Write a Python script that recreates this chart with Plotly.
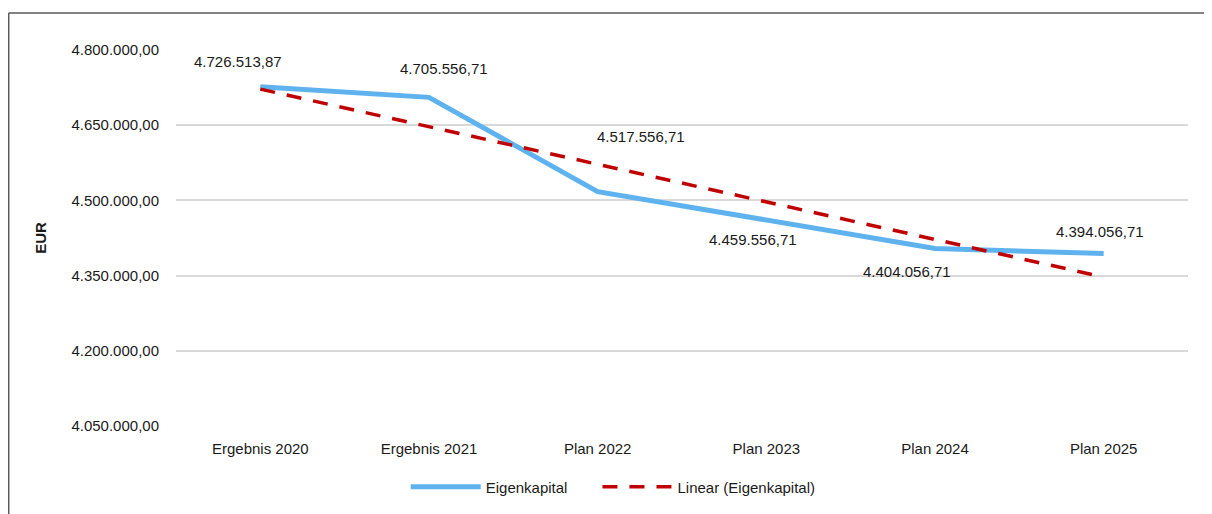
import plotly.graph_objects as go

# Data
categories = ["Ergebnis 2020", "Ergebnis 2021", "Plan 2022", "Plan 2023", "Plan 2024", "Plan 2025"]
eigenkapital = [4726513.87, 4705556.71, 4517556.71, 4459556.71, 4404056.71, 4394056.71]
# linear trend values
trend = [4722035, 4647041, 4572047, 4497053, 4422059, 4347065]
y_ticks = [4050000, 4200000, 4350000, 4500000, 4650000, 4800000]

# label offsets (px) for the data labels, Excel style placement
label_dx = [-22, 15, 43, -13, -28, -4]
label_dy = [25, 29, 55, -19, -23, 22]

FONT = "Liberation Sans, Arial"


def de_fmt(v):
    s = f"{v:,.2f}"
    return s.replace(",", "X").replace(".", ",").replace("X", ".")


fig = go.Figure()

fig.add_trace(go.Scatter(
    x=categories, y=eigenkapital,
    name="Eigenkapital" + "\u00a0" * 6,
    mode="lines",
    line=dict(color="#5EB3EF", width=5),
))

fig.add_trace(go.Scatter(
    x=categories, y=trend,
    name="Linear (Eigenkapital)",
    mode="lines",
    line=dict(color="#C00000", width=3.5, dash="15px,12px"),
))

for i, (c, v) in enumerate(zip(categories, eigenkapital)):
    fig.add_annotation(
        x=c, y=v, text=de_fmt(v), showarrow=False,
        xshift=label_dx[i], yshift=label_dy[i],
        font=dict(family=FONT, size=15, color="#1a1a1a"),
    )

# outer chart border (left and top visible)
fig.add_shape(type="line", xref="paper", yref="paper",
              x0=-0.1653, x1=1.2, y0=1.0981, y1=1.0981,
              line=dict(color="#595959", width=1.5))
fig.add_shape(type="line", xref="paper", yref="paper",
              x0=-0.1653, x1=-0.1653, y0=1.0981, y1=-0.3,
              line=dict(color="#595959", width=1.5))

fig.update_layout(
    width=1204, height=506,
    margin=dict(l=168, r=24, t=42, b=87),
    paper_bgcolor="white", plot_bgcolor="white",
    separators=",.",
    font=dict(family=FONT, size=15, color="#1a1a1a"),
    showlegend=True,
    legend=dict(
        orientation="h", x=0.227, xanchor="left", y=-0.159, yanchor="middle",
        itemwidth=70, font=dict(size=15),
    ),
    xaxis=dict(
        range=[-0.5, 5.5], showgrid=False, showline=False, zeroline=False,
        ticks="", ticklabelstandoff=12,
    ),
    yaxis=dict(
        range=[4050000, 4800000], tickvals=y_ticks, tickformat=",.2f",
        showgrid=True, gridcolor="#D9D9D9", gridwidth=1.5,
        zeroline=False, showline=False, ticks="", ticklabelstandoff=16,
        title=dict(text="<b>EUR</b>", font=dict(family=FONT, size=15), standoff=21),
    ),
)

fig.write_html("out.html")
